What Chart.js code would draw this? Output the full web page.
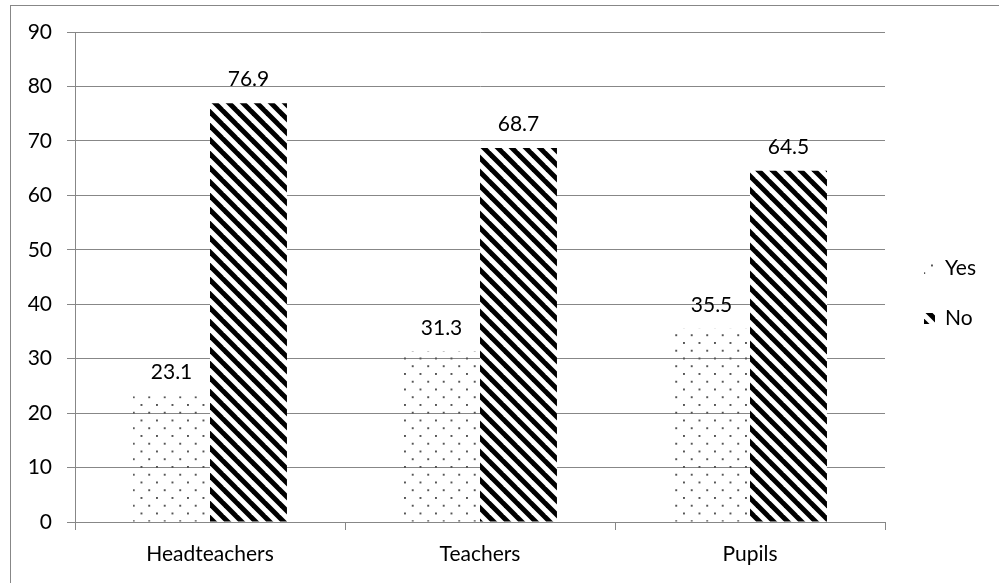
<!DOCTYPE html>
<html>
<head>
<meta charset="utf-8">
<script src="https://cdn.jsdelivr.net/npm/chart.js@4/dist/chart.umd.min.js"></script>
<style>
  html, body { margin: 0; padding: 0; background: #fff; }
  #wrap { width: 999px; height: 583px; position: relative; }
</style>
</head>
<body>
<div id="wrap"><canvas id="c" width="999" height="583"></canvas></div>
<script>
// Survey responses (percent) by respondent group
const categories = ['Headteachers', 'Teachers', 'Pupils'];
const seriesNames = ['Yes', 'No'];
const yesValues = [23.1, 31.3, 35.5];
const noValues = [76.9, 68.7, 64.5];
const yTicks = [0, 10, 20, 30, 40, 50, 60, 70, 80, 90];

const FONT = 'Lato, "Open Sans", sans-serif';
const FSIZE = 21;
const GRID = '#878787';

// Sparse dotted fill
function dotPattern() {
  const t = document.createElement('canvas');
  t.width = 16; t.height = 16;
  const g = t.getContext('2d');
  g.fillStyle = '#555';
  g.fillRect(1, 1, 2, 2);
  g.fillRect(9, 9, 2, 2);
  const ctx = document.getElementById('c').getContext('2d');
  const p = ctx.createPattern(t, 'repeat');
  if (p.setTransform) p.setTransform(new DOMMatrix().scale(15.5 / 16));
  return p;
}

// Wide downward diagonal stripes
function stripePattern() {
  const P = 14;
  const t = document.createElement('canvas');
  t.width = P; t.height = P;
  const g = t.getContext('2d');
  g.fillStyle = '#fff';
  g.fillRect(0, 0, P, P);
  g.strokeStyle = '#000';
  g.lineWidth = P / 2 / Math.SQRT2;
  for (let k = -1; k <= 1; k++) {
    g.beginPath();
    g.moveTo(k * P - 2, -2);
    g.lineTo(k * P + P + 2, P + 2);
    g.stroke();
  }
  const ctx = document.getElementById('c').getContext('2d');
  return ctx.createPattern(t, 'repeat');
}

const fills = [dotPattern(), stripePattern()];

// Frame around the whole chart
const framePlugin = {
  id: 'frame',
  beforeDraw(chart) {
    const ctx = chart.ctx;
    ctx.save();
    ctx.fillStyle = '#fff';
    ctx.fillRect(0, 0, chart.width, chart.height);
    ctx.strokeStyle = GRID;
    ctx.lineWidth = 1;
    ctx.strokeRect(10.5, 5.5, chart.width + 20, chart.height + 20);
    ctx.restore();
  }
};

// Value labels above each bar
const valueLabels = {
  id: 'valueLabels',
  afterDatasetsDraw(chart) {
    const ctx = chart.ctx;
    ctx.save();
    ctx.font = FSIZE + 'px ' + FONT;
    ctx.fillStyle = '#000';
    ctx.textAlign = 'center';
    ctx.textBaseline = 'alphabetic';
    chart.data.datasets.forEach((ds, i) => {
      chart.getDatasetMeta(i).data.forEach((bar, j) => {
        ctx.fillText(ds.data[j].toFixed(1), bar.x, bar.y - 17);
      });
    });
    ctx.restore();
  }
};

// Legend on the right
const sideLegend = {
  id: 'sideLegend',
  afterDraw(chart) {
    const ctx = chart.ctx;
    ctx.save();
    ctx.font = FSIZE + 'px ' + FONT;
    ctx.textBaseline = 'middle';
    ctx.textAlign = 'left';
    const rows = [268, 318];
    chart.data.datasets.forEach((ds, i) => {
      const y = rows[i];
      ctx.fillStyle = ds.backgroundColor;
      ctx.fillRect(924, y - 5, 11, 11);
      ctx.fillStyle = '#000';
      ctx.fillText(ds.label, 945, y);
    });
    ctx.restore();
  }
};

new Chart(document.getElementById('c'), {
  type: 'bar',
  data: {
    labels: categories,
    datasets: [
      { label: seriesNames[0], data: yesValues, backgroundColor: fills[0], borderWidth: 0 },
      { label: seriesNames[1], data: noValues, backgroundColor: fills[1], borderWidth: 0 }
    ]
  },
  options: {
    responsive: false,
    animation: false,
    devicePixelRatio: 1,
    layout: { padding: { left: 0, right: 114, top: 32, bottom: 0 } },
    datasets: { bar: { categoryPercentage: 0.57, barPercentage: 1.0 } },
    plugins: { legend: { display: false }, tooltip: { enabled: false } },
    scales: {
      x: {
        offset: true,
        grid: { offset: true, drawOnChartArea: false, drawTicks: true, tickLength: 8, color: GRID },
        border: { display: true, color: GRID },
        ticks: { font: { family: FONT, size: FSIZE }, color: '#000', padding: 12 },
        afterFit(s) { s.height = 61; }
      },
      y: {
        min: 0, max: 90,
        afterBuildTicks(s) { s.ticks = yTicks.map(v => ({ value: v })); },
        grid: { drawTicks: true, tickLength: 8, color: GRID },
        border: { display: true, color: GRID },
        ticks: { font: { family: FONT, size: FSIZE }, color: '#000', padding: 15 },
        afterFit(s) { s.width = 75; }
      }
    }
  },
  plugins: [framePlugin, valueLabels, sideLegend]
});
</script>
</body>
</html>
